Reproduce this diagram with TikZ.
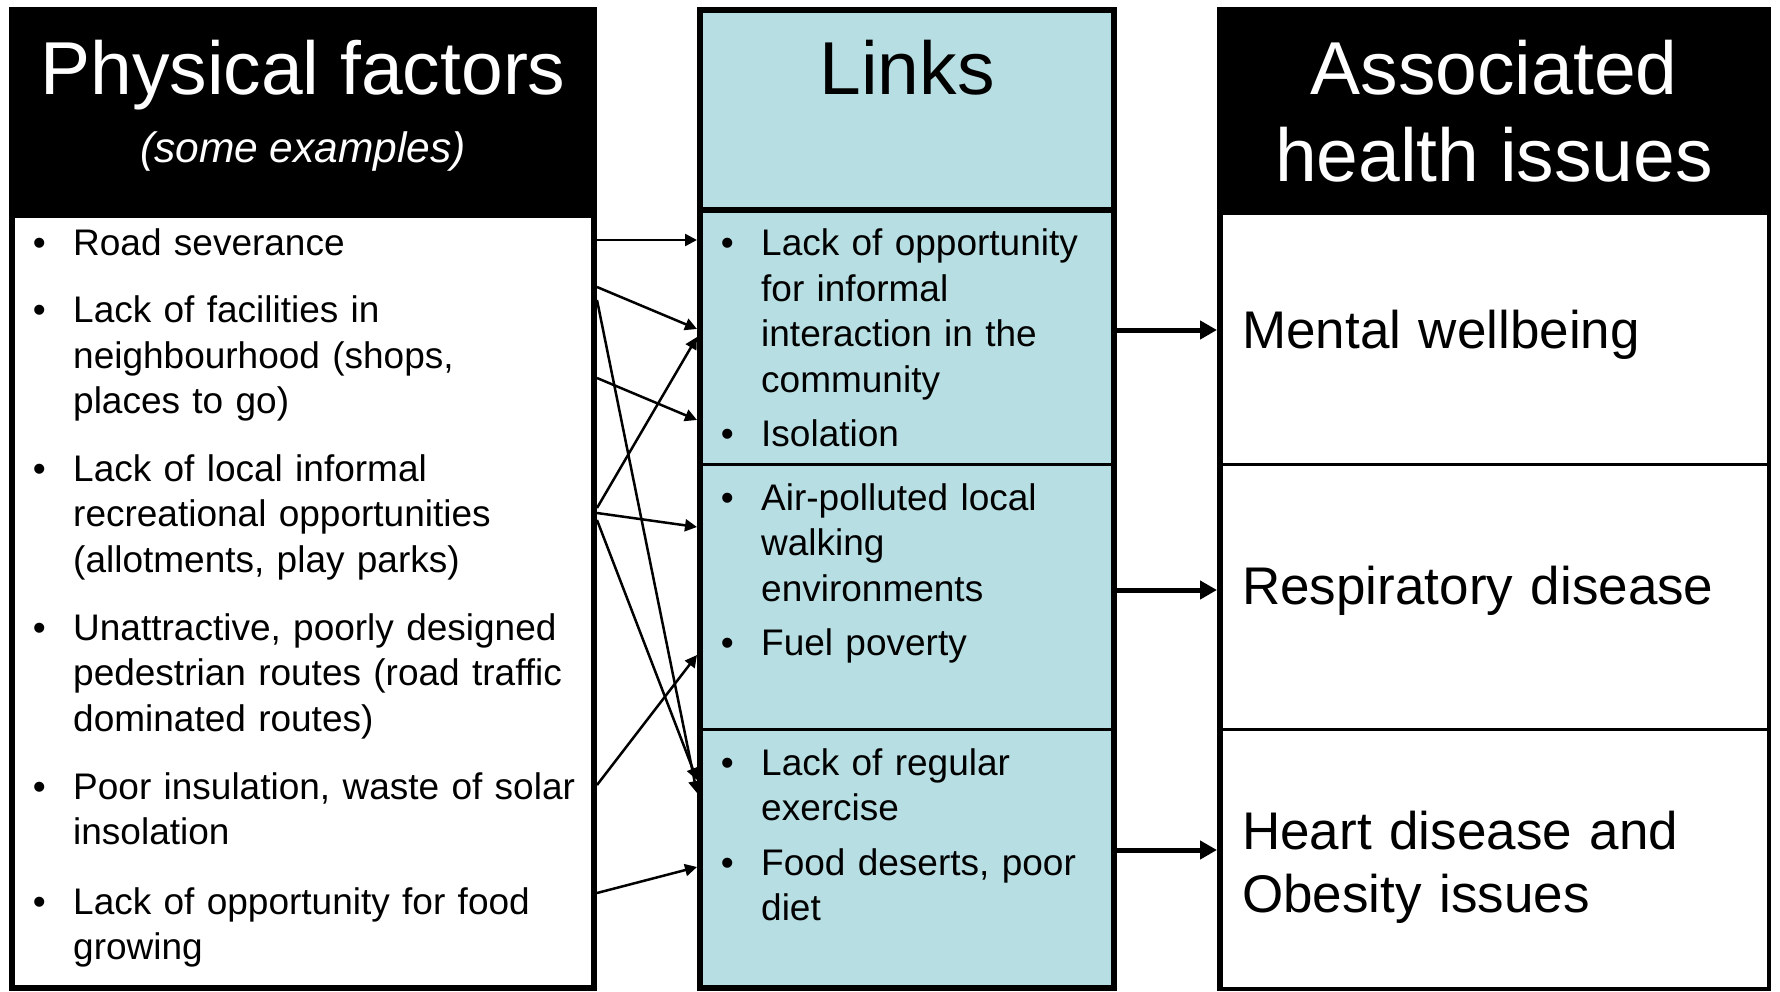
\documentclass[tikz,border=0pt]{standalone}
\usepackage{fontspec}
\setmainfont{Liberation Sans}
\usetikzlibrary{arrows.meta, positioning}

\definecolor{linkblue}{RGB}{183,222,226}

\tikzset{
  panel/.style={draw=black, line width=6pt},
  sep/.style={line width=3pt},
  head/.style={anchor=base, inner sep=0pt, font=\fontsize{75}{89}\selectfont},
  item/.style={anchor=base west, inner sep=0pt, align=left, font=\fontsize{37}{45.5}\selectfont},
  dot/.style={inner sep=0pt, font=\fontsize{37}{45.5}\selectfont},
  issue/.style={anchor=base west, inner sep=0pt, align=left, text width=520pt, font=\fontsize{53}{63}\selectfont},
  link/.style={-{Triangle[length=12pt, width=12pt]}, line width=2.5pt},
  fat/.style={-{Triangle[length=17pt, width=18pt]}, line width=5pt}
}

\begin{document}
\begin{tikzpicture}[x=1pt, y=-1pt]
    \useasboundingbox (0,0) rectangle (1780,992);

    % panels
    \fill[black] (9,7) rectangle (597,215);
    \draw[panel, fill=white] (12,215) rectangle (594,988);
    \draw[panel, fill=linkblue] (700,10) rectangle (1114,988);
    \draw[line width=6pt] (700,210) -- (1114,210);
    \draw[sep] (700,464) -- (1114,464);
    \draw[sep] (700,729) -- (1114,729);
    \fill[black] (1217,7) rectangle (1771,213);
    \draw[line width=4pt, fill=white] (1220,213) rectangle (1769,989);
    \draw[line width=6pt] (1220,213) -- (1220,991);
    \draw[sep] (1220,464) -- (1769,464);
    \draw[sep] (1220,729) -- (1769,729);

    % headings
    \node[head, text=white] (phys) at (303,95) {Physical factors};
    \node[head, text=white, font=\itshape\fontsize{42.5}{50}\selectfont] (examples) at (303,163) {(some examples)};
    \node[head] (links) at (907,95) {Links};
    \node[head, text=white] (assoc) at (1494,95) {Associated};
    \node[head, text=white] (health) at (1494,182) {health issues};

    % physical factors
    \node[item, text width=520pt] (road) at (73,256) {Road severance};
    \node[item, text width=520pt] (shops) at (73,323) {Lack of facilities in\\neighbourhood (shops,\\places to go)};
    \node[item, text width=520pt] (recr) at (73,481) {Lack of local informal\\recreational opportunities\\(allotments, play parks)};
    \node[item, text width=520pt] (routes) at (73,640) {Unattractive, poorly designed\\pedestrian routes (road traffic\\dominated routes)};
    \node[item, text width=520pt] (insul) at (73,799) {Poor insulation, waste of solar\\insolation};
    \node[item, text width=520pt] (food) at (73,914) {Lack of opportunity for food\\growing};

    % links
    \node[item, text width=345pt] (opp) at (761,256) {Lack of opportunity\\for informal\\interaction in the\\community};
    \node[item, text width=345pt] (isol) at (761,446) {Isolation};
    \node[item, text width=345pt] (air) at (761,510) {Air-polluted local\\walking\\environments};
    \node[item, text width=345pt] (fuel) at (761,655) {Fuel poverty};
    \node[item, text width=345pt] (exer) at (761,775) {Lack of regular\\exercise};
    \node[item, text width=345pt] (diet) at (761,875) {Food deserts, poor\\diet};

    % bullets
    \node[dot, base left=27pt of road] (b1) {\textbullet};
    \node[dot, base left=27pt of shops] (b2) {\textbullet};
    \node[dot, base left=27pt of recr] (b3) {\textbullet};
    \node[dot, base left=27pt of routes] (b4) {\textbullet};
    \node[dot, base left=27pt of insul] (b5) {\textbullet};
    \node[dot, base left=27pt of food] (b6) {\textbullet};
    \node[dot, base left=27pt of opp] (b7) {\textbullet};
    \node[dot, base left=27pt of isol] (b8) {\textbullet};
    \node[dot, base left=27pt of air] (b9) {\textbullet};
    \node[dot, base left=27pt of fuel] (b10) {\textbullet};
    \node[dot, base left=27pt of exer] (b11) {\textbullet};
    \node[dot, base left=27pt of diet] (b12) {\textbullet};

    % health issues
    \node[issue] (mental) at (1242,348) {Mental wellbeing};
    \node[issue] (resp) at (1242,604) {Respiratory disease};
    \node[issue] (heart) at (1242,849) {Heart disease and\\Obesity issues};

    % arrow ends on the panel edges
    \coordinate (s1) at (597,240);
    \coordinate (s2) at (597,287);
    \coordinate (s3) at (597,300);
    \coordinate (s4) at (597,378);
    \coordinate (s5) at (597,508);
    \coordinate (s6) at (597,513);
    \coordinate (s7) at (597,520);
    \coordinate (s8) at (597,785);
    \coordinate (s9) at (597,893);
    \coordinate (t1) at (697,240);
    \coordinate (t2) at (697,329);
    \coordinate (t3) at (697,793);
    \coordinate (t4) at (697,420);
    \coordinate (t5) at (697,337);
    \coordinate (t6) at (697,527);
    \coordinate (t7) at (697,780);
    \coordinate (t8) at (697,655);
    \coordinate (t9) at (697,867);
    \coordinate (m1) at (1117,330);
    \coordinate (m2) at (1117,590);
    \coordinate (m3) at (1117,850);
    \coordinate (h1) at (1217,330);
    \coordinate (h2) at (1217,590);
    \coordinate (h3) at (1217,850);

    \draw[link] (s1) -- (t1);
    \draw[link] (s2) -- (t2);
    \draw[link] (s3) -- (t3);
    \draw[link] (s4) -- (t4);
    \draw[link] (s5) -- (t5);
    \draw[link] (s6) -- (t6);
    \draw[link] (s7) -- (t7);
    \draw[link] (s8) -- (t8);
    \draw[link] (s9) -- (t9);

    \draw[fat] (m1) -- (h1);
    \draw[fat] (m2) -- (h2);
    \draw[fat] (m3) -- (h3);
\end{tikzpicture}
\end{document}
